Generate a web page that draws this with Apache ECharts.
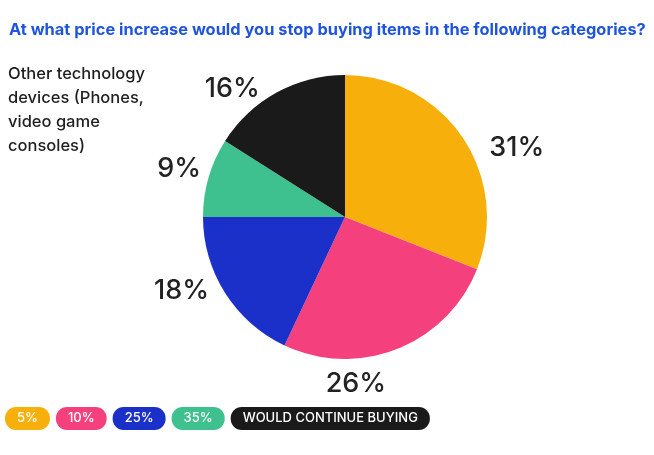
<!DOCTYPE html>
<html>
<head>
<meta charset="utf-8">
<script src="https://cdn.jsdelivr.net/npm/echarts@6/dist/echarts.min.js"></script>
<style>
  html, body { margin: 0; padding: 0; background: #fff; }
  #main { width: 654px; height: 455px; }
</style>
</head>
<body>
<div id="main"></div>
<script>
// price increase at which people stop buying
var categories = ['5%', '10%', '25%', '35%', 'WOULD CONTINUE BUYING'];
var shares = [31, 26, 18, 9, 16];
var colors = ['#F7B00B', '#F5407E', '#1A30C8', '#3EC08F', '#1A1A1A'];

var myChart = echarts.init(document.getElementById('main'));
var font = 'Inter, "Noto Sans", sans-serif';

// small hand nudges so the value labels sit where the original put them
var labelNudge = [[12, 17], [-81, 24], [-1, -9], [9, -5], [-6, 7]];

var option = {
    animation: false,
    color: colors,
    textStyle: { fontFamily: font },
    title: [{
        text: 'At what price increase would you stop buying items in the following categories?',
        left: 4,
        top: 17,
        textStyle: { color: '#1F55DD', fontSize: 16.4, fontWeight: 700, fontFamily: font }
    }, {
        text: 'Other technology\ndevices (Phones,\nvideo game\nconsoles)',
        left: 3,
        top: 57,
        textStyle: { color: '#1E1E1E', fontSize: 16.5, fontWeight: 500, lineHeight: 24, fontFamily: font }
    }],
    legend: {
        left: -5,
        top: 402,
        selectedMode: false,
        itemWidth: 0,
        itemHeight: 0,
        itemGap: 1,
        icon: 'none',
        data: categories.map(function (c, i) {
            return {
                name: c,
                textStyle: {
                    color: '#fff',
                    fontSize: 13,
                    lineHeight: 13,
                    fontWeight: 500,
                    fontFamily: font,
                    backgroundColor: colors[i],
                    borderRadius: 11,
                    padding: [5, 12, 5, 12]
                }
            };
        })
    },
    series: [{
        type: 'pie',
        center: [345, 217],
        radius: 142,
        startAngle: 90,
        avoidLabelOverlap: false,
        label: {
            show: true,
            position: 'outside',
            formatter: '{c}%',
            fontSize: 27,
            fontWeight: 500,
            color: '#222',
            fontFamily: font,
            distance: 6
        },
        labelLine: { show: false, length: 12, length2: 0 },
        labelLayout: function (p) {
            var n = labelNudge[p.dataIndex];
            return { dx: n[0], dy: n[1] };
        },
        data: categories.map(function (c, i) {
            return { name: c, value: shares[i] };
        })
    }]
};
myChart.setOption(option);
</script>
</body>
</html>
